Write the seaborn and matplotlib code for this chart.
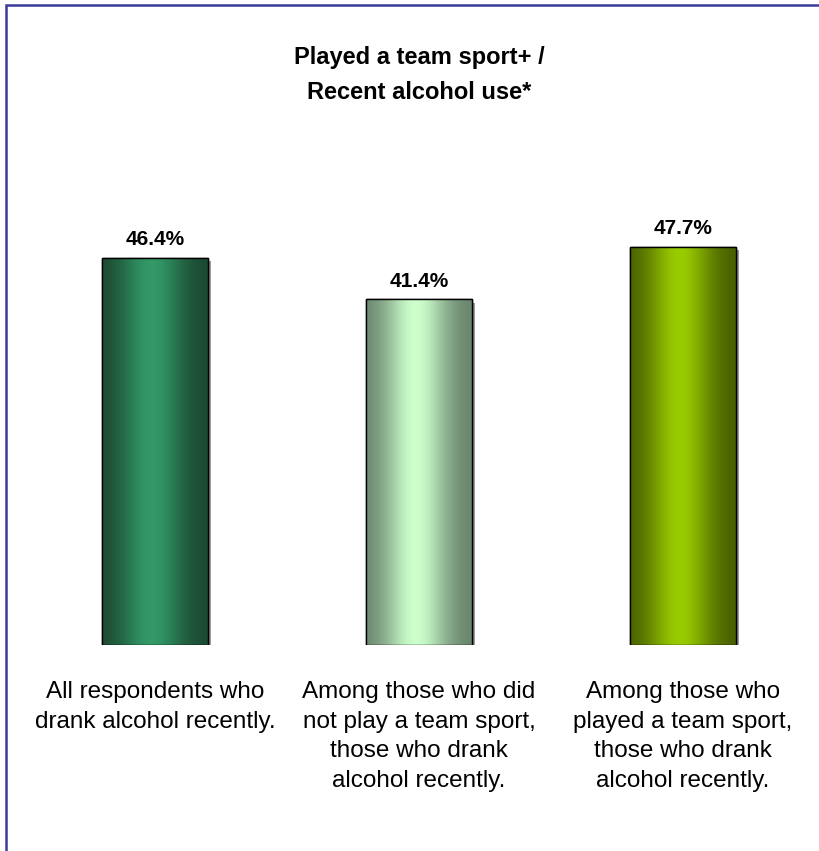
import numpy as np
import pandas as pd
import seaborn as sns
import matplotlib.pyplot as plt
import matplotlib.patheffects as pe
from matplotlib.colors import to_rgb
from matplotlib.patches import Rectangle

# data
groups = ["all", "no_team", "team"]
values = [46.4, 41.4, 47.7]
tick_labels = [
    "All respondents who\ndrank alcohol recently.",
    "Among those who did\nnot play a team sport,\nthose who drank\nalcohol recently.",
    "Among those who\nplayed a team sport,\nthose who drank\nalcohol recently.",
]
title = "Played a team sport+ /\nRecent alcohol use*"

# bar colours (edge shade, centre shade)
dark_cols = ["#1a4630", "#66806a", "#465c00"]
light_cols = ["#339966", "#ccffcc", "#99cc00"]

sns.set_theme(style="white")
plt.rcParams['font.family'] = ['Liberation Sans', 'DejaVu Sans']
plt.rcParams['text.color'] = 'black'
plt.rcParams['xtick.color'] = 'black'

df = pd.DataFrame({'group': groups, 'value': values})

fig = plt.figure(figsize=(8.19, 8.51), dpi=100)
ax = fig.add_axes([23 / 819, 206 / 851, 792 / 819, 50 * 8.35 / 851])

sns.barplot(data=df, x='group', y='value', hue='group', palette=light_cols,
            width=0.4, legend=False, ax=ax, edgecolor='black', linewidth=1.0)

t = np.linspace(0, 1, 256)
f = np.exp(-((t - 0.47) / 0.3) ** 2)
for i, bar in enumerate(ax.patches):
    bar.set_path_effects([pe.SimplePatchShadow(offset=(2.5, -2.5), shadow_rgbFace='#999999', alpha=1.0),
                          pe.Normal()])
    x0, y0 = bar.get_x(), bar.get_y()
    w, h = bar.get_width(), bar.get_height()
    d = np.array(to_rgb(dark_cols[i]))
    l = np.array(to_rgb(light_cols[i]))
    grad = d[None, :] * (1 - f[:, None]) + l[None, :] * f[:, None]
    img = ax.imshow(grad[None, :, :], extent=[x0, x0 + w, y0, y0 + h],
                    aspect='auto', zorder=3, interpolation='bilinear')
    img.set_clip_path(bar)
    ax.add_patch(Rectangle((x0, y0), w, h, facecolor='none', edgecolor='black',
                           linewidth=1.0, zorder=4))

for cont in ax.containers:
    ax.bar_label(cont, fmt='%.1f%%', padding=6, fontsize=15, fontweight='bold', color='black')

ax.set_xlim(-0.5, 2.5)
ax.set_ylim(0, 50)
ax.set_xticks(range(len(groups)))
ax.set_xticklabels(tick_labels, fontsize=17.5, linespacing=1.45, multialignment='center')
ax.tick_params(axis='x', length=0, pad=26)
ax.set_yticks([])
ax.set_xlabel('')
ax.set_ylabel('')
for s in ax.spines.values():
    s.set_visible(False)

fig.text(419 / 819, 1 - 75 / 851, title, ha='center', va='center',
         fontsize=17, fontweight='bold', linespacing=1.65)

# frame around the chart (right and bottom edges run off the image)
fig.patches.append(Rectangle((5.5 / 819, -0.1), 1.2, 1.1 - 5.5 / 851,
                             transform=fig.transFigure, facecolor='none',
                             edgecolor='#3a3a9e', linewidth=1.8, zorder=0))

fig.savefig('out.png', dpi=100, facecolor='white')
